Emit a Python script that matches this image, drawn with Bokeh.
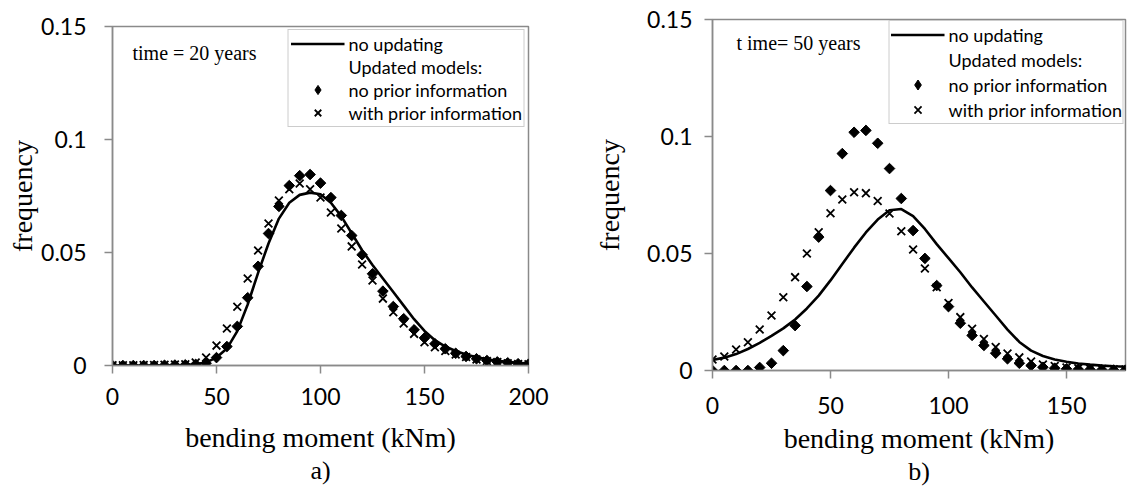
import math
from bokeh.plotting import figure
from bokeh.layouts import row
from bokeh.models import Range1d, FixedTicker, Legend, LegendItem, Label, Title
from bokeh.embed import file_html
from bokeh.resources import INLINE

# ---------------- data: panel a) time = 20 years ----------------
a_moment = [0, 5, 10, 15, 20, 25, 30, 35, 40, 45, 50, 55, 60, 65, 70, 75, 80, 85, 90, 95,
            100, 105, 110, 115, 120, 125, 130, 135, 140, 145, 150, 155, 160, 165, 170, 175,
            180, 185, 190, 195, 200]
a_no_updating = [0, 0, 0, 0, 0, 0.0001, 0.0001, 0.0002, 0.0005, 0.0014, 0.0035, 0.0075, 0.0152,
                 0.027, 0.041, 0.054, 0.065, 0.072, 0.0755, 0.0765, 0.0758, 0.072, 0.066, 0.0585,
                 0.051, 0.0445, 0.0385, 0.0325, 0.0265, 0.0205, 0.0153, 0.0112, 0.0084, 0.0064,
                 0.0049, 0.0037, 0.0028, 0.0021, 0.0016, 0.0012, 0.0009]
a_no_prior = [0, 0, 0, 0, 0, 0.0001, 0.0002, 0.0003, 0.0005, 0.001, 0.0035, 0.0084, 0.0173,
              0.030, 0.0439, 0.0584, 0.0704, 0.0796, 0.084, 0.0845, 0.0807, 0.0743, 0.0664, 0.0575,
              0.049, 0.0406, 0.0329, 0.0261, 0.0207, 0.0158, 0.0122, 0.0096, 0.0074, 0.0054, 0.004,
              0.003, 0.0022, 0.0016, 0.0012, 0.0008, 0.0006]
a_with_prior = [0.0001, 0.0001, 0.0001, 0.0002, 0.0002, 0.0003, 0.0004, 0.0005, 0.0013, 0.0035,
                0.0088, 0.0164, 0.026, 0.0385, 0.0509, 0.0628, 0.073, 0.078, 0.0805, 0.078, 0.0743,
                0.0677, 0.0606, 0.0527, 0.0447, 0.0376, 0.0296, 0.0236, 0.0186, 0.014, 0.0103,
                0.0081, 0.0064, 0.0049, 0.0038, 0.0027, 0.002, 0.0015, 0.001, 0.0007, 0.0005]

# ---------------- data: panel b) time = 50 years ----------------
b_moment = [0, 5, 10, 15, 20, 25, 30, 35, 40, 45, 50, 55, 60, 65, 70, 75, 80, 85, 90, 95,
            100, 105, 110, 115, 120, 125, 130, 135, 140, 145, 150, 155, 160, 165, 170, 175]
b_no_updating = [0.0045, 0.0055, 0.007, 0.0092, 0.0118, 0.0148, 0.018, 0.0218, 0.0265, 0.032,
                 0.0385, 0.0455, 0.0525, 0.059, 0.0645, 0.0685, 0.069, 0.066, 0.0605, 0.054, 0.048,
                 0.042, 0.0355, 0.0295, 0.0235, 0.0175, 0.0122, 0.0085, 0.0062, 0.0047, 0.0037,
                 0.003, 0.0025, 0.0021, 0.0018, 0.0016]
b_no_prior = [0, 0, 0, 0, 0.0013, 0.0031, 0.0085, 0.0192, 0.0359, 0.057, 0.0769, 0.0927, 0.1018,
              0.1026, 0.0971, 0.0863, 0.0735, 0.0598, 0.0479, 0.0363, 0.0273, 0.0202, 0.015,
              0.0107, 0.0074, 0.005, 0.0031, 0.0021, 0.0014, 0.001, 0.0007, 0.0005, 0.0004,
              0.0003, 0.0002, 0.0002]
b_with_prior = [0.0047, 0.006, 0.009, 0.0121, 0.0175, 0.0235, 0.0313, 0.0399, 0.05, 0.0591,
                0.0672, 0.0731, 0.0762, 0.0758, 0.0724, 0.0671, 0.0595, 0.0517, 0.0436, 0.0356,
                0.0288, 0.0228, 0.0178, 0.0135, 0.01, 0.0073, 0.0056, 0.0038, 0.0026, 0.0019,
                0.0013, 0.001, 0.0008, 0.0006, 0.0005, 0.0004]

# ---------------- axes / text ----------------
y_ticks = [0, 0.05, 0.1, 0.15]
y_tick_labels = ["0", "0.05", "0.1", "0.15"]
a_x_ticks = [0, 50, 100, 150, 200]
b_x_ticks = [0, 50, 100, 150]
a_x_max = 200
b_x_max = 175
y_max = 0.15
legend_labels = ["no updating", "Updated models:", "no prior information", "with prior information"]
x_title = "bending moment (kNm)"
y_title = "frequency"

GRAY = "#8a8a8a"
SERIF = "Liberation Serif"
SANS = "Lato"


def make_panel(moment, no_upd, no_prior, with_prior, x_ticks, x_max, note, panel_tag,
               width, borders, note_pos, tick_standoff_y, ylabel_standoff,
               xtick_standoff, xlabel_standoff, legend_cfg):
    left, right, top, bottom = borders
    p = figure(width=width, height=488, output_backend="svg", toolbar_location=None,
               title=None,
               x_range=Range1d(0, x_max), y_range=Range1d(0, y_max),
               min_border_left=left, min_border_right=right,
               min_border_top=top, min_border_bottom=bottom)
    try:
        p.frame_align = False
    except Exception:
        pass
    p.xgrid.visible = False
    p.ygrid.visible = False
    p.background_fill_color = "white"
    p.border_fill_color = "white"
    p.outline_line_color = GRAY
    p.outline_line_width = 1.5

    r_line = p.line(moment, no_upd, line_color="black", line_width=2.6)
    # diamond-shaped renderer used for the legend swatch (hidden under the rotated squares)
    r_dia_leg = p.scatter(moment, no_prior, marker="diamond", size=9,
                          fill_color="black", line_color="black")
    p.scatter(moment, no_prior, marker="square", angle=math.pi / 4, size=7.5,
              fill_color="black", line_color="black")
    r_x = p.scatter(moment, with_prior, marker="x", size=11, line_color="black", line_width=1.8)
    r_dummy = p.line([], [], line_alpha=0)

    # axes
    for ax in (p.xaxis[0], p.yaxis[0]):
        ax.axis_line_color = GRAY
        ax.axis_line_width = 1.5
        ax.major_tick_line_color = GRAY
        ax.major_tick_line_width = 1.5
        ax.major_tick_in = 0
        ax.major_tick_out = 8
        ax.minor_tick_line_color = None
        ax.major_label_text_font = SANS
        ax.major_label_text_font_size = "23px"
        ax.major_label_text_color = "black"
        ax.axis_label_text_font = SERIF
        ax.axis_label_text_font_size = "28px"
        ax.axis_label_text_font_style = "normal"
        ax.axis_label_text_color = "black"

    p.xaxis.ticker = FixedTicker(ticks=x_ticks)
    p.xaxis.major_label_standoff = xtick_standoff
    p.xaxis.axis_label = x_title
    p.xaxis.axis_label_standoff = xlabel_standoff

    p.yaxis.ticker = FixedTicker(ticks=y_ticks)
    p.yaxis.major_label_overrides = {float(t): lab for t, lab in zip(y_ticks, y_tick_labels)}
    p.yaxis.major_label_standoff = tick_standoff_y
    p.yaxis.axis_label = y_title
    p.yaxis.axis_label_standoff = ylabel_standoff

    # panel caption below the axis title
    p.add_layout(Title(text=panel_tag, align="center", text_font=SERIF, text_font_size="26px",
                       text_font_style="normal", text_color="black", standoff=0,
                       vertical_align="top"), "below")

    # note inside
    p.add_layout(Label(x=note_pos[0], y=note_pos[1], x_units="screen", y_units="screen",
                       text=note, text_font=SERIF, text_font_size="20px",
                       text_baseline="middle", text_color="black"))

    glyph_h, spacing, padding, margin = legend_cfg
    legend = Legend(items=[
        LegendItem(label=legend_labels[0], renderers=[r_line]),
        LegendItem(label=legend_labels[1], renderers=[r_dummy]),
        LegendItem(label=legend_labels[2], renderers=[r_dia_leg]),
        LegendItem(label=legend_labels[3], renderers=[r_x]),
    ], location="top_right", margin=margin, padding=padding, spacing=spacing,
        glyph_height=glyph_h, label_height=glyph_h, glyph_width=54, label_standoff=4,
        label_text_font=SANS, label_text_font_size="18px", label_text_baseline="middle",
        label_text_color="black",
        border_line_color="#9a9a9a", border_line_width=1.2,
        background_fill_color="white", background_fill_alpha=1.0)
    p.add_layout(legend)
    return p


pa = make_panel(a_moment, a_no_updating, a_no_prior, a_with_prior, a_x_ticks, a_x_max,
                "time = 20 years", "a)", 560, (112, 32, 26, 123), (20, 313),
                18, 0, 14, 14, (23, 0, 2, 3))
pb = make_panel(b_moment, b_no_updating, b_no_prior, b_with_prior, b_x_ticks, b_x_max,
                "t ime= 50 years", "b)", 568, (152, 3, 19, 118), (24, 328),
                12, 19, 18, 6, (25, 0, 1, 1))

layout = row(pa, pb)
open("out.html", "w").write(file_html(layout, INLINE))
